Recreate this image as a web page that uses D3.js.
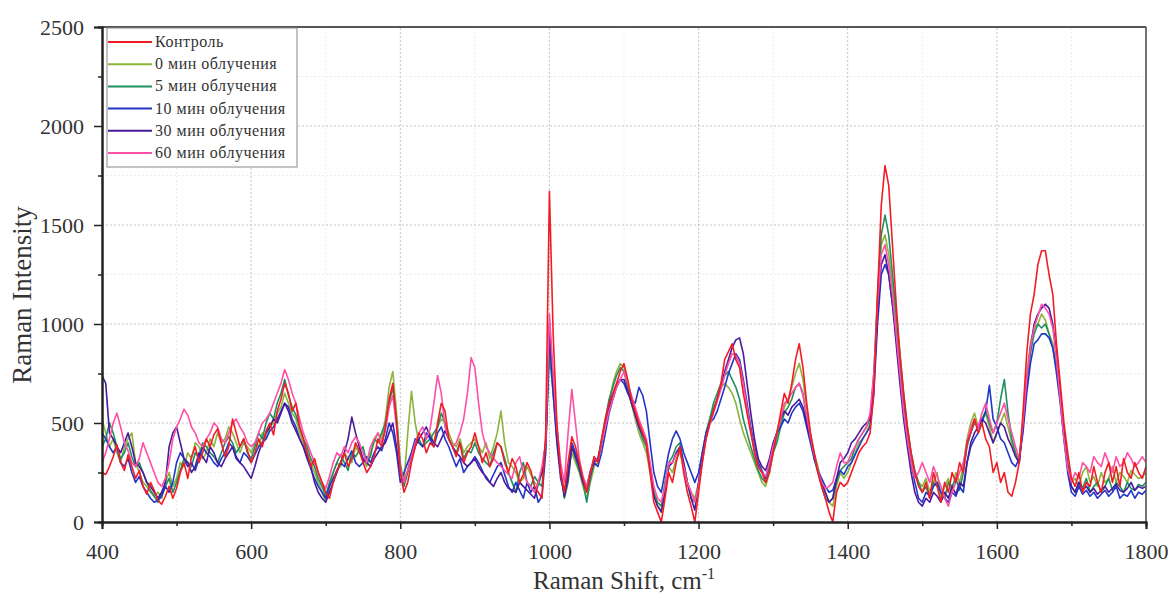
<!DOCTYPE html>
<html><head><meta charset="utf-8">
<script src="https://cdn.jsdelivr.net/npm/d3@7"></script>
<style>body{margin:0;background:#fff;} svg{display:block;}</style>
</head><body>
<svg id="chart" width="1171" height="596"></svg>
<script>
// Raman shift grid (cm-1), one sample every 5 cm-1
const shift = d3.range(400, 1801, 5);

const seriesNames = ["Контроль","0 мин облучения","5 мин облучения","10 мин облучения","30 мин облучения","60 мин облучения"];
const seriesColors = ["#f21c24","#8cb43c","#1e9060","#2236c8","#4a1a9e","#ff4fa6"];

const control = [
250,240,280,330,390,300,260,340,280,220,260,180,140,200,160,110,90,130,180,120,
170,250,300,220,330,380,300,350,420,380,440,470,400,330,380,520,450,380,420,360,
300,350,420,380,460,500,440,560,620,700,650,560,600,480,420,350,280,320,250,200,
150,120,200,260,300,350,280,320,400,360,300,250,280,330,420,380,480,620,700,500,
250,150,200,300,380,450,420,350,400,380,500,600,560,420,380,330,400,300,350,380,
450,380,300,350,280,320,400,380,300,250,320,280,200,240,300,260,180,150,120,450,
1670,950,500,250,150,300,430,380,300,220,150,250,330,300,420,520,600,650,700,760,
800,720,620,560,500,450,400,250,100,50,0,120,250,200,300,380,250,150,80,0,
150,300,420,500,560,620,700,820,860,900,820,780,650,550,450,350,280,250,200,250,
350,450,550,650,600,700,820,900,780,600,450,350,250,180,120,50,0,150,200,180,
200,250,300,350,380,400,450,650,1150,1600,1800,1700,1400,1100,850,650,480,350,250,180,
150,200,120,250,180,100,200,150,250,200,300,250,400,450,520,450,500,420,380,250,
300,200,250,150,130,200,300,550,850,1050,1150,1300,1370,1370,1250,1150,900,700,500,350,
220,180,250,150,200,180,280,200,150,250,300,200,280,180,320,250,220,300,250,220,
280];

const min0 = [
520,450,380,420,350,300,380,420,450,300,250,200,180,150,130,150,120,200,250,180,
220,300,280,350,320,400,380,320,350,420,380,450,400,420,480,450,400,350,400,380,
350,400,380,450,420,480,500,550,580,650,600,550,520,450,400,350,300,250,200,150,
100,180,250,300,280,350,320,300,380,350,320,280,350,400,450,420,520,680,760,550,
300,200,450,660,500,400,380,420,450,400,480,520,500,450,400,380,420,350,380,400,
420,380,350,400,320,380,450,560,400,300,280,250,200,220,280,240,200,180,250,400,
900,700,450,250,150,250,350,300,250,180,120,200,280,300,400,500,600,700,760,800,
780,700,600,520,450,400,350,250,150,80,60,150,280,250,320,350,280,200,150,120,
200,350,450,520,580,620,680,700,680,650,600,520,450,400,350,300,250,200,180,250,
350,420,500,580,620,680,750,800,720,580,450,350,280,200,150,100,80,180,250,220,
250,300,350,400,420,450,500,700,1100,1400,1450,1350,1200,1000,800,600,450,320,250,200,
180,220,150,200,250,120,180,220,150,250,200,280,420,500,550,480,520,550,480,400,
450,500,550,480,400,350,300,500,750,900,980,1000,1050,1020,950,900,800,650,450,300,
200,220,180,250,280,200,230,180,250,200,220,280,200,250,230,200,260,240,220,230,
250];

const min5 = [
380,420,500,450,380,320,350,400,330,280,300,250,200,160,130,100,140,180,220,150,
200,260,320,300,280,350,330,400,380,350,330,300,350,400,430,400,350,380,420,350,
320,380,450,420,500,550,520,600,650,720,640,580,540,480,420,380,320,280,220,180,
130,200,250,300,340,300,260,350,330,360,380,300,330,420,400,450,500,600,680,520,
280,180,250,350,400,420,380,400,420,450,480,550,500,420,380,350,400,320,360,350,
400,350,320,300,280,350,400,380,320,250,200,150,250,300,200,180,230,200,180,380,
850,650,420,250,120,200,380,320,260,200,100,220,300,320,420,520,620,680,740,780,
760,680,600,550,480,420,380,280,150,100,80,200,300,330,380,400,300,200,120,100,
180,320,450,520,600,650,700,740,760,720,680,620,520,450,380,320,260,220,200,280,
350,400,480,550,580,620,680,700,650,520,420,320,250,180,120,100,120,200,260,280,
300,320,380,420,450,480,520,750,1150,1450,1550,1450,1250,1050,850,650,480,350,260,200,
150,180,120,200,180,150,120,200,180,220,160,250,380,450,500,480,520,560,500,450,
500,620,720,550,420,350,300,500,700,850,950,1000,980,1000,950,880,780,620,420,280,
180,150,200,170,220,150,180,200,150,180,220,160,200,180,150,200,170,160,190,180,
200];

const min10 = [
450,420,380,350,380,300,280,320,250,200,230,180,150,120,100,110,130,180,150,200,
300,350,320,280,300,260,320,380,350,330,300,280,320,350,400,380,320,300,350,330,
300,340,380,400,420,460,480,520,560,600,580,520,480,420,380,320,270,220,180,150,
120,180,220,260,300,280,320,360,300,280,300,330,300,350,380,360,420,500,450,350,
200,250,300,350,420,400,380,450,420,380,450,480,420,380,330,280,320,250,280,300,
330,300,260,220,200,240,280,300,240,180,150,200,160,120,200,150,180,100,130,350,
950,650,400,220,150,250,400,350,280,200,180,260,300,280,350,450,550,620,680,720,
700,650,620,600,680,640,560,400,250,180,150,250,350,420,460,420,350,300,250,200,
250,350,450,500,520,560,620,680,750,800,850,820,720,600,480,380,300,260,220,300,
380,450,480,520,500,550,580,600,560,480,400,320,260,220,180,150,160,220,260,240,
280,300,340,380,420,450,480,650,1000,1250,1300,1250,1100,950,750,580,420,300,200,120,
100,150,130,180,200,150,120,100,150,130,180,150,300,380,420,450,500,560,690,520,
480,420,400,350,300,280,320,450,650,800,900,920,950,950,930,880,750,600,420,250,
150,130,180,140,160,130,150,120,140,160,130,150,180,120,140,130,160,120,150,140,
160];

const min30 = [
740,700,450,420,380,350,400,450,380,300,280,250,200,180,150,120,150,200,380,450,
480,400,320,300,250,280,350,330,300,380,350,300,280,320,350,380,330,300,280,250,
220,280,350,400,450,480,520,500,550,600,560,500,460,420,380,330,280,200,150,120,
100,150,200,250,300,350,420,530,450,380,320,300,280,320,350,380,400,450,500,380,
250,200,260,320,380,420,450,480,430,400,380,420,460,420,380,350,330,300,280,300,
320,280,250,230,200,180,220,250,200,170,160,150,200,180,160,140,120,200,250,400,
1000,700,430,250,130,220,380,330,280,200,160,240,310,320,400,500,580,640,690,720,
720,660,600,540,480,440,400,280,130,80,50,150,280,300,350,380,300,200,120,60,
200,320,430,500,560,620,680,760,820,880,920,930,850,700,550,420,320,280,260,320,
400,450,520,560,540,580,600,620,580,500,420,340,260,200,150,100,120,220,300,320,
350,400,420,450,480,500,520,700,1050,1300,1350,1250,1100,900,700,520,380,250,150,100,
80,120,100,150,130,100,150,120,180,140,200,180,300,400,450,480,520,500,450,400,
450,500,480,420,380,330,300,480,700,880,1000,1050,1080,1100,1080,1000,850,650,450,280,
180,150,200,160,180,150,170,140,160,180,150,170,190,160,150,170,200,160,180,170,
180];

const min60 = [
300,350,420,500,550,480,400,360,300,280,320,400,350,300,250,200,180,220,300,420,
480,520,570,540,480,450,400,380,420,450,500,480,420,400,450,500,520,480,450,400,
380,400,450,500,520,550,600,650,700,770,720,650,600,520,450,400,350,300,250,200,
170,230,300,350,330,380,350,400,430,400,350,300,380,420,450,400,460,580,640,480,
270,200,260,330,400,450,480,420,470,600,740,650,480,420,380,400,450,520,650,830,
780,600,450,380,350,320,300,280,260,240,220,300,330,250,200,180,150,200,280,400,
1050,750,480,300,200,450,670,500,320,230,180,250,330,300,400,480,560,620,680,720,
760,700,640,580,520,470,420,300,180,120,100,180,300,300,340,360,280,200,150,100,
180,300,420,490,550,610,670,740,800,850,840,800,700,580,460,360,280,250,230,300,
380,450,520,600,620,650,680,700,640,540,430,340,260,200,170,180,200,280,350,300,
300,350,380,420,450,480,550,750,1100,1350,1400,1300,1150,950,750,560,420,300,220,250,
300,250,200,280,230,180,120,80,150,200,250,300,400,480,520,480,550,600,520,450,
500,550,600,520,450,380,320,500,720,880,980,1040,1100,1080,1050,980,820,620,420,270,
200,250,220,300,280,250,330,300,280,350,300,250,330,280,300,350,320,280,300,330,
300];

const xTicks = [400,600,800,1000,1200,1400,1600,1800];
const yTicks = [0,500,1000,1500,2000,2500];
const xMinor = [500,700,900,1100,1300,1500,1700];
const yMinor = [250,750,1250,1750,2250];

const allSeries = [control, min0, min5, min10, min30, min60];
// drawing order (back to front)
const drawOrder = [1,2,3,4,5,0];

const svg = d3.select("#chart");
const W = 1171, H = 596;
const m = {left:102, right:25, top:27, bottom:74};
const x = d3.scaleLinear().domain([400,1800]).range([m.left, W - m.right]);
const y = d3.scaleLinear().domain([0,2500]).range([H - m.bottom, m.top]);
const serif = "'Liberation Serif','Times New Roman',serif";

svg.append("defs").append("clipPath").attr("id","clip")
  .append("rect").attr("x", m.left).attr("y", m.top)
  .attr("width", x(1800)-x(400)).attr("height", y(0)-y(2500));

// grid
const grid = svg.append("g");
grid.selectAll(".gxm").data(xMinor).join("line")
  .attr("x1", d=>x(d)).attr("x2", d=>x(d)).attr("y1", y(0)).attr("y2", y(2500))
  .attr("stroke","#ececec").attr("stroke-width",1).attr("stroke-dasharray","2,2");
grid.selectAll(".gym").data(yMinor).join("line")
  .attr("x1", x(400)).attr("x2", x(1800)).attr("y1", d=>y(d)).attr("y2", d=>y(d))
  .attr("stroke","#ececec").attr("stroke-width",1).attr("stroke-dasharray","2,2");
grid.selectAll(".gx").data(xTicks.slice(1,-1)).join("line")
  .attr("x1", d=>x(d)).attr("x2", d=>x(d)).attr("y1", y(0)).attr("y2", y(2500))
  .attr("stroke","#c4c4c4").attr("stroke-width",1).attr("stroke-dasharray","2,2");
grid.selectAll(".gy").data(yTicks.slice(1,-1)).join("line")
  .attr("x1", x(400)).attr("x2", x(1800)).attr("y1", d=>y(d)).attr("y2", d=>y(d))
  .attr("stroke","#c4c4c4").attr("stroke-width",1).attr("stroke-dasharray","2,2");

// lines
const line = d3.line().x((d,i)=>x(shift[i])).y(d=>y(d));
const lines = svg.append("g").attr("clip-path","url(#clip)");
drawOrder.forEach(k=>{
  lines.append("path").datum(allSeries[k])
    .attr("d", line).attr("fill","none")
    .attr("stroke", seriesColors[k]).attr("stroke-width",1.6)
    .attr("stroke-linejoin","round");
});

// frame top/right
svg.append("line").attr("x1",x(400)).attr("x2",x(1800)).attr("y1",y(2500)).attr("y2",y(2500))
  .attr("stroke","#555").attr("stroke-width",2);
svg.append("line").attr("x1",x(1800)).attr("x2",x(1800)).attr("y1",y(2500)).attr("y2",y(0))
  .attr("stroke","#444").attr("stroke-width",1.5);

// axes
const xAxis = svg.append("g").attr("transform",`translate(0,${y(0)})`)
  .call(d3.axisBottom(x).tickValues(xTicks).tickSize(7).tickPadding(14).tickFormat(d3.format("d")));
const xAxisMinor = svg.append("g").attr("transform",`translate(0,${y(0)})`)
  .call(d3.axisBottom(x).tickValues(xMinor).tickSize(4).tickFormat(""));
const yAxis = svg.append("g").attr("transform",`translate(${x(400)},0)`)
  .call(d3.axisLeft(y).tickValues(yTicks).tickSize(8).tickPadding(10).tickFormat(d3.format("d")));
const yAxisMinor = svg.append("g").attr("transform",`translate(${x(400)},0)`)
  .call(d3.axisLeft(y).tickValues(yMinor).tickSize(4).tickFormat(""));
[xAxis,xAxisMinor,yAxis,yAxisMinor].forEach(g=>{
  g.select(".domain").attr("stroke","#222").attr("stroke-width",2);
  g.selectAll(".tick line").attr("stroke","#222").attr("stroke-width",1.5);
  g.selectAll("text").attr("font-family",serif).attr("font-size",22).attr("fill","#333");
});

// axis titles
svg.append("text").attr("x", 624).attr("y", 589)
  .attr("text-anchor","middle").attr("font-family",serif).attr("font-size",25).attr("fill","#333")
  .call(t=>{
    t.append("tspan").text("Raman Shift, cm");
    t.append("tspan").attr("dy",-10).attr("font-size",16).text("-1");
  });
svg.append("text").attr("transform",`translate(31,295) rotate(-90)`)
  .attr("text-anchor","middle").attr("font-family",serif).attr("font-size",27).attr("fill","#333")
  .text("Raman Intensity");

// legend
const lg = svg.append("g");
lg.append("rect").attr("x",107).attr("y",28).attr("width",190).attr("height",139)
  .attr("fill","#fff").attr("stroke","#888").attr("stroke-width",1);
seriesNames.forEach((n,i)=>{
  const yy = 42 + i*22.2;
  lg.append("line").attr("x1",108).attr("x2",152).attr("y1",yy).attr("y2",yy)
    .attr("stroke",seriesColors[i]).attr("stroke-width",2);
  lg.append("text").attr("x",155).attr("y",yy+5).attr("font-family",serif)
    .attr("font-size",16).attr("letter-spacing",0.5).attr("fill","#333").text(n);
});
</script>
</body></html>
